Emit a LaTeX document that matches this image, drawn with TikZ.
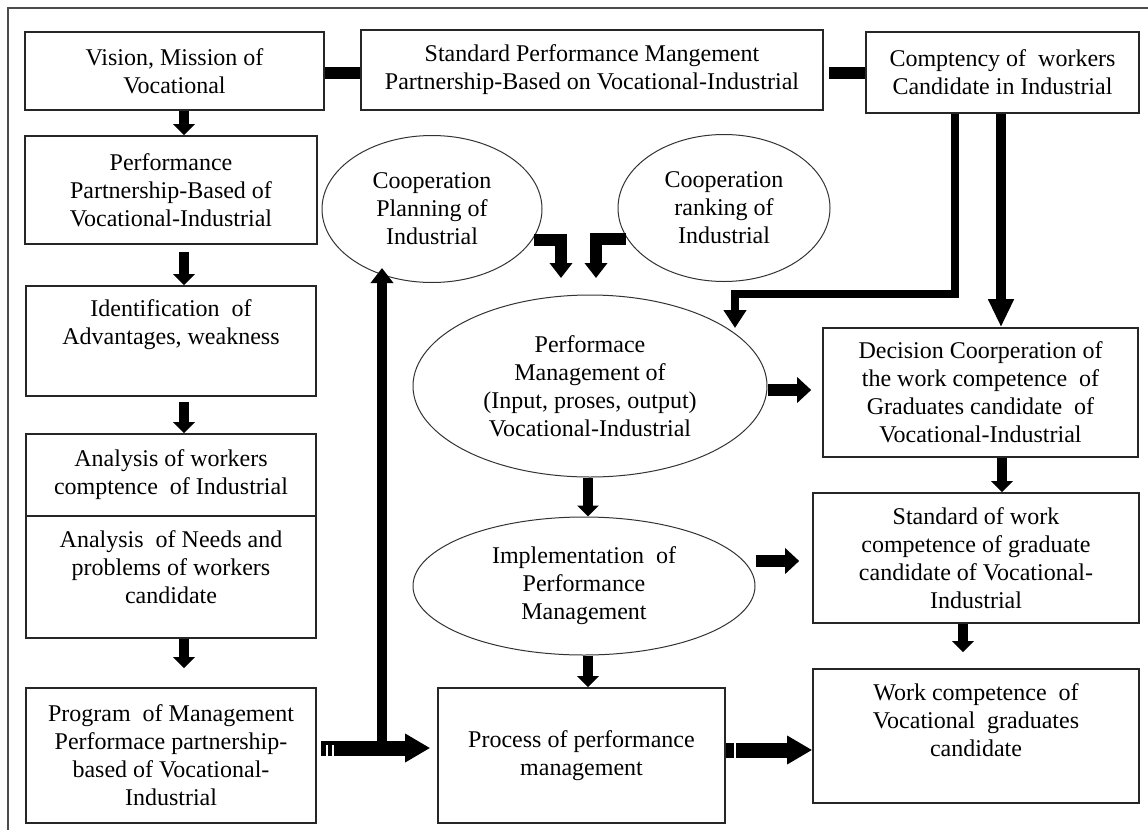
\documentclass[tikz,border=0pt]{standalone}
\usepackage{fontspec}
\setmainfont{Liberation Serif}
\usetikzlibrary{shapes.geometric,arrows.meta,calc}
\newcommand\myfs{\fontsize{24}{28}\selectfont}
\begin{document}
\begin{tikzpicture}[x=1pt,y=-1pt,
  box/.style={draw=black!85, line width=1.6pt, rectangle, inner sep=0pt, align=center, font=\myfs},
  ell/.style={draw=black!80, line width=1pt, ellipse, inner sep=0pt, align=center, font=\myfs},
  txt/.style={align=center, inner sep=0pt, font=\myfs},
  sarr/.style={line width=10pt, -{Triangle[length=11pt,width=21pt]}},
  marr/.style={line width=12pt, -{Triangle[length=14pt,width=25pt]}},
  barr/.style={line width=15pt, -{Triangle[length=25pt,width=27pt]}},
  uarr/.style={line width=10pt, -{Triangle[length=15pt,width=22pt]}},
  earr/.style={line width=12pt, miter limit=10, -{Triangle[length=15pt,width=22pt]}},
  carr/.style={line width=8pt, miter limit=10, -{Triangle[length=18pt,width=22pt]}},
  darr/.style={line width=10pt, -{Triangle[length=28pt,width=24pt]}},
  link/.style={line width=12pt}]
\useasboundingbox (0,0) rectangle (1148,830);
\fill[white] (0,0) rectangle (1148,830);
% outer frame (cut off at right and bottom)
\draw[black!70, line width=2pt] (8,830) -- (8,7.5) -- (1148,7.5);

% top row
\node[box, minimum width=299pt, minimum height=78pt] (vision) at (174.5,71) {Vision, Mission of\\Vocational};
\node[box, minimum width=462pt, minimum height=80pt] (stdpm) at (592,70) {Standard Performance Mangement\\Partnership-Based on Vocational-Industrial};
\node[box, minimum width=273pt, minimum height=81pt] (comp) at (1002.5,72.5) {Comptency of\ \ workers\\Candidate in Industrial};

% left column
\node[box, minimum width=292pt, minimum height=108pt] (pp) at (171,190) {Performance\\Partnership-Based of\\Vocational-Industrial};
\node[box, minimum width=290pt, minimum height=110pt] (ident) at (171,341) {};
\node[txt] (identT) at (171,325) {Identification\ \ of\\Advantages, weakness};
\node[box, minimum width=290pt, minimum height=82pt] (anaA) at (171,475) {Analysis of workers\\comptence\ \ of Industrial};
\node[box, minimum width=290pt, minimum height=122pt] (anaB) at (171,577) {};
\node[txt] (anaBT) at (171,567) {Analysis\ \ of Needs and\\problems of workers\\candidate};
\node[box, minimum width=290pt, minimum height=135pt] (prog) at (171,755.5) {Program\ \ of Management\\Performace partnership-\\based of Vocational-\\Industrial};

% middle
\node[ell, minimum width=220pt, minimum height=147pt] (plan) at (432,209) {Cooperation\\Planning of\\Industrial};
\node[ell, minimum width=212pt, minimum height=147pt] (rank) at (724,208) {Cooperation\\ranking of\\Industrial};
\node[ell, minimum width=354pt, minimum height=182pt] (pm) at (590,386) {Performace\\Management of\\(Input, proses, output)\\Vocational-Industrial};
\node[ell, minimum width=342pt, minimum height=138pt] (impl) at (584,586) {Implementation\ \ of\\Performance\\Management};
\node[box, minimum width=287pt, minimum height=135pt] (proc) at (581.5,755.5) {Process of performance\\management};

% right column
\node[box, minimum width=315pt, minimum height=129pt] (dec) at (980.5,392.5) {Decision Coorperation of\\the work competence\ \ of\\Graduates candidate\ \ of\\Vocational-Industrial};
\node[box, minimum width=326pt, minimum height=130pt] (stdw) at (976,558) {Standard of work\\competence of graduate\\candidate of Vocational-\\Industrial};
\node[box, minimum width=326pt, minimum height=134pt] (work) at (976,736) {};
\node[txt] (workT) at (976,720) {Work competence\ \ of\\Vocational\ \ graduates\\candidate};

% helper coordinates
\coordinate (cx) at (184,0);
\coordinate (mx) at (588,0);
\coordinate (ly) at (0,73);
\coordinate (pa) at (0,748);
\coordinate (pw) at (0,750);
\coordinate (uptip) at (382,268);
\coordinate (e1) at (561,278);
\coordinate (e2) at (596,278);
\coordinate (ctip) at (735,328);

% top links
\draw[link] (vision.east |- ly) -- (stdpm.west |- ly);
\draw[link] ($(stdpm.east |- ly)+(5,0)$) -- (comp.west |- ly);

% left column arrows
\draw[sarr] (vision.south -| cx) -- (pp.north -| cx);
\draw[sarr] ($(pp.south -| cx)+(0,7)$) -- (ident.north -| cx);
\draw[sarr] ($(ident.south -| cx)+(0,5)$) -- (anaA.north -| cx);
\draw[sarr] (anaB.south -| cx) -- ($(prog.north -| cx)+(0,-19)$);

% program -> process, with branch up to planning
\draw[barr] ($(prog.east |- pa)+(4,0)$) -- ($(proc.west |- pa)+(-7,0)$);
\draw[uarr] (uptip |- pa) -- (uptip);
\draw[white, line width=1.5pt] (327,745) -- (327,757);
\draw[white, line width=1.5pt] (333,745) -- (333,757);

% elbows from cooperation ellipses
\draw[earr] ($(plan.center)+(102,31)$) -- (e1 |- 0,240) -- (e1);
\draw[earr] ($(rank.center)+(-98,31)$) -- (e2 |- 0,239) -- (e2);

% competency connectors
\draw[carr] (comp.south -| 955,0) -- (955,294) -- (ctip |- 0,294) -- (ctip);
\draw[darr] (comp.south -| 1001,0) -- (dec.north -| 1001,0);

% middle column arrows
\draw[sarr] (pm.south -| mx) -- (impl.north -| mx);
\draw[sarr] (impl.south -| mx) -- (proc.north -| mx);
\draw[marr] ($(pm.east)+(0,4)$) -- ($(dec.west)+(-11,-2.5)$);
\draw[marr] ($(impl.east)+(0,-25)$) -- ($(stdw.west |- impl.east)+(-13,-25)$);

% right column arrows
\draw[sarr] (dec.south -| 1002,0) -- (stdw.north -| 1002,0);
\draw[sarr] (stdw.south -| 963,0) -- ($(work.north -| 963,0)+(0,-16)$);
\draw[barr] (proc.east |- pw) -- (work.west |- pw);
\draw[white, line width=1.2pt] (735,742) -- (735,758);
\end{tikzpicture}
\end{document}
